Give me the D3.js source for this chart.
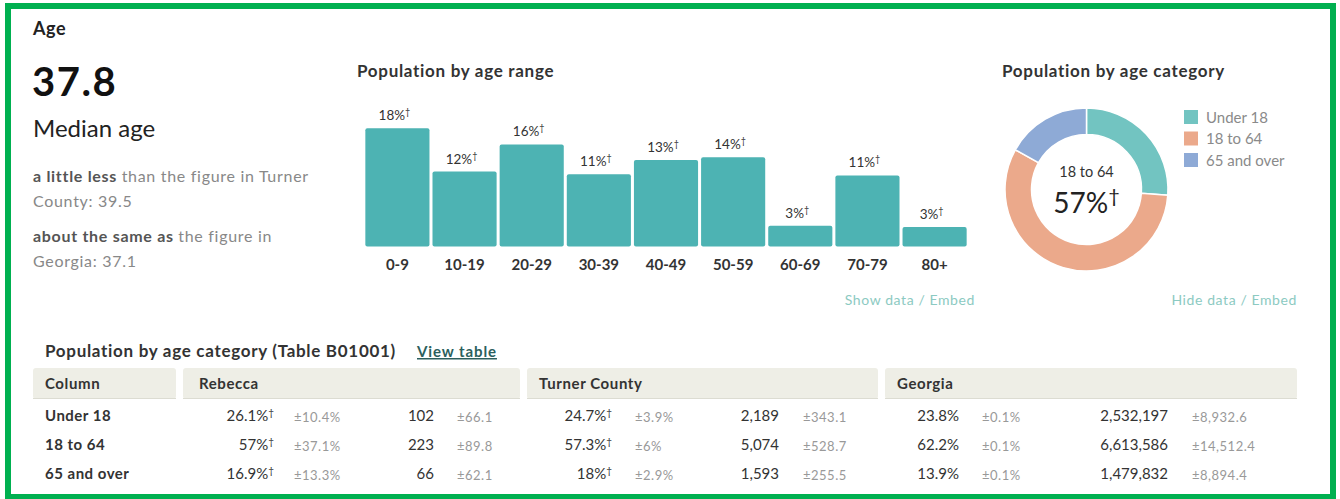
<!DOCTYPE html>
<html>
<head>
<meta charset="utf-8">
<script src="https://cdn.jsdelivr.net/npm/d3@7"></script>
<style>
  body { margin: 0; background: #fff; }
  svg { display: block; font-family: Lato, "Noto Sans", sans-serif; }
</style>
</head>
<body>
<div id="viz"></div>
<script>
// ---- data ----
const medianAge = 37.8;
const compareBold = ["a little less", "about the same as"];
const compareRest = ["than the figure in Turner", "the figure in"];
const compareLine2 = ["County: 39.5", "Georgia: 37.1"];

const ageRanges = ["0-9", "10-19", "20-29", "30-39", "40-49", "50-59", "60-69", "70-79", "80+"];
const ageRangePct = [18.3, 11.6, 15.8, 11.2, 13.4, 13.8, 3.2, 11.0, 3.0];

const categories = ["Under 18", "18 to 64", "65 and over"];
const categoryPct = [26.1, 57, 16.9];
const categoryColors = ["#72c4c1", "#eba98b", "#8eaad6"];

const places = ["Rebecca", "Turner County", "Georgia"];
const flagged = [true, true, false];   // dagger on the percentages
const pctVals = [[26.1, 57, 16.9], [24.7, 57.3, 18], [23.8, 62.2, 13.9]];
const pctMoe = [[10.4, 37.1, 13.3], [3.9, 6, 2.9], [0.1, 0.1, 0.1]];
const countVals = [[102, 223, 66], [2189, 5074, 1593], [2532197, 6613586, 1479832]];
const countMoe = [[66.1, 89.8, 62.1], [343.1, 528.7, 255.5], [8932.6, 14512.4, 8894.4]];

const W = 1340, H = 499;
const svg = d3.select("#viz").append("svg").attr("width", W).attr("height", H);

// green frame
svg.append("rect").attr("x", 5).attr("y", 3).attr("width", 1331).attr("height", 500).attr("fill", "#00b050");
svg.append("rect").attr("x", 11).attr("y", 9).attr("width", 1319).attr("height", 485).attr("fill", "#fff");

// ---- left summary ----
svg.append("text").attr("x", 33).attr("y", 35).attr("font-size", 18).attr("font-weight", 700)
    .attr("letter-spacing", 0.6).attr("fill", "#222").text("Age");
svg.append("text").attr("x", 32).attr("y", 96).attr("font-size", 40).attr("font-weight", 700)
    .attr("letter-spacing", 1.5).attr("fill", "#111").text(medianAge);
svg.append("text").attr("x", 33).attr("y", 137).attr("font-size", 24)
    .attr("fill", "#222").text("Median age");

compareBold.forEach((b, i) => {
    const y0 = 182 + i * 60;
    const t = svg.append("text").attr("x", 33).attr("y", y0).attr("font-size", 16).attr("letter-spacing", 0.7);
    t.append("tspan").attr("font-weight", 700).attr("fill", "#555").text(b + " ");
    t.append("tspan").attr("fill", "#888").text(compareRest[i]);
    svg.append("text").attr("x", 33).attr("y", y0 + 25).attr("font-size", 16).attr("letter-spacing", 0.7)
        .attr("fill", "#888").text(compareLine2[i]);
});

// ---- bar chart ----
svg.append("text").attr("x", 357).attr("y", 77).attr("font-size", 17).attr("font-weight", 700)
    .attr("letter-spacing", 0.7).attr("fill", "#333").text("Population by age range");

const x = d3.scaleBand().domain(ageRanges).range([364, 968]).paddingInner(0.045).paddingOuter(0.02);
const y = d3.scaleLinear().domain([0, d3.max(ageRangePct)]).range([246.5, 128.3]);
const bars = ageRanges.map((r, i) => ({ r, v: ageRangePct[i] }));

svg.append("g").selectAll("rect").data(bars).join("rect")
    .attr("x", d => x(d.r)).attr("y", d => y(d.v))
    .attr("width", x.bandwidth()).attr("height", d => y(0) - y(d.v))
    .attr("rx", 2).attr("fill", "#4db3b3");

const lbl = svg.append("g").selectAll("text").data(bars).join("text")
    .attr("x", d => x(d.r) + x.bandwidth() / 2 - 3).attr("y", d => y(d.v) - 8)
    .attr("text-anchor", "middle").attr("font-size", 13.5).attr("fill", "#333");
lbl.append("tspan").text(d => Math.round(d.v) + "%");
lbl.append("tspan").attr("dy", -5).attr("font-size", 9).text("†");

const xAxis = svg.append("g").attr("transform", `translate(0,${y(0)})`)
    .call(d3.axisBottom(x).tickSize(0).tickPadding(13));
xAxis.select(".domain").remove();
xAxis.selectAll("text").attr("font-family", "Lato, sans-serif").attr("font-size", 15)
    .attr("font-weight", 700).attr("fill", "#333");

svg.append("text").attr("x", 975).attr("y", 305).attr("text-anchor", "end").attr("font-size", 14)
    .attr("letter-spacing", 0.6).attr("fill", "#8ccac2").text("Show data / Embed");

// ---- donut ----
svg.append("text").attr("x", 1002).attr("y", 77).attr("font-size", 17).attr("font-weight", 700)
    .attr("letter-spacing", 0.7).attr("fill", "#333").text("Population by age category");

const pie = d3.pie().sort(null).value(d => d.v);
const arc = d3.arc().innerRadius(55).outerRadius(81.5);
const cats = categories.map((c, i) => ({ c, v: categoryPct[i], col: categoryColors[i] }));
const donut = svg.append("g").attr("transform", "translate(1086.5,189.5)");
donut.selectAll("path").data(pie(cats)).join("path")
    .attr("d", arc).attr("fill", d => d.data.col).attr("stroke", "#fff").attr("stroke-width", 1.5);

const mid = cats[1];
donut.append("text").attr("y", -13).attr("text-anchor", "middle").attr("font-size", 14.5)
    .attr("fill", "#333").text(mid.c);
const big = donut.append("text").attr("y", 23.5).attr("text-anchor", "middle")
    .attr("font-size", 28).attr("fill", "#222");
big.append("tspan").text(Math.round(mid.v) + "%");
big.append("tspan").attr("dy", -10).attr("font-size", 20).text("†");

const leg = svg.append("g").selectAll("g").data(cats).join("g")
    .attr("transform", (d, i) => `translate(1184,${110 + i * 21.5})`);
leg.append("rect").attr("width", 14).attr("height", 14).attr("fill", d => d.col);
leg.append("text").attr("x", 22).attr("y", 12.5).attr("font-size", 15).attr("fill", "#8a8a8a").text(d => d.c);

svg.append("text").attr("x", 1297).attr("y", 305).attr("text-anchor", "end").attr("font-size", 14)
    .attr("letter-spacing", 0.6).attr("fill", "#8ccac2").text("Hide data / Embed");

// ---- table ----
svg.append("text").attr("x", 45).attr("y", 357).attr("font-size", 17).attr("font-weight", 700)
    .attr("letter-spacing", 0.7).attr("fill", "#333").text("Population by age category (Table B01001)");
svg.append("text").attr("x", 417).attr("y", 357).attr("font-size", 15).attr("font-weight", 700)
    .attr("letter-spacing", 0.9).attr("fill", "#2c5f5d").attr("text-decoration", "underline").text("View table");

const headCells = [
    { name: "Column", x0: 33, x1: 176, tx: 45 },
    { name: places[0], x0: 183, x1: 520, tx: 199 },
    { name: places[1], x0: 527, x1: 878, tx: 539 },
    { name: places[2], x0: 885, x1: 1297, tx: 897 }
];
const head = svg.append("g").selectAll("g").data(headCells).join("g");
head.append("rect").attr("x", d => d.x0).attr("y", 368).attr("width", d => d.x1 - d.x0)
    .attr("height", 31).attr("rx", 3).attr("fill", "#eeeee6");
head.append("rect").attr("x", d => d.x0).attr("y", 398).attr("width", d => d.x1 - d.x0)
    .attr("height", 1).attr("fill", "#dcdcd2");
head.append("text").attr("x", d => d.tx).attr("y", 389).attr("font-size", 15).attr("font-weight", 700)
    .attr("letter-spacing", 0.6).attr("fill", "#333").text(d => d.name);

// column anchor positions per place
const colPos = [
    { pctEnd: 274, pctMoe: 294, cntEnd: 434, cntMoe: 457 },
    { pctEnd: 612, pctMoe: 635, cntEnd: 779, cntMoe: 803 },
    { pctEnd: 959, pctMoe: 982, cntEnd: 1168, cntMoe: 1192 }
];
const rowY = [421, 450, 479];
const fmtCount = d3.format(",");

svg.append("g").selectAll("text").data(categories).join("text")
    .attr("x", 45).attr("y", (d, i) => rowY[i]).attr("font-size", 15).attr("font-weight", 700)
    .attr("letter-spacing", 0.5).attr("fill", "#333").text(d => d);

places.forEach((p, pi) => {
    const g = svg.append("g");
    const pos = colPos[pi];
    const rows = categories.map((c, ri) => ({
        y: rowY[ri], pct: pctVals[pi][ri], pm: pctMoe[pi][ri],
        cnt: countVals[pi][ri], cm: countMoe[pi][ri]
    }));
    const pt = g.selectAll("text.pct").data(rows).join("text").attr("class", "pct")
        .attr("x", pos.pctEnd).attr("y", d => d.y).attr("text-anchor", "end")
        .attr("font-size", 15).attr("fill", "#333");
    pt.append("tspan").text(d => d.pct + "%");
    if (flagged[pi]) pt.append("tspan").attr("dy", -5).attr("font-size", 10).text("†");

    g.selectAll("text.pm").data(rows).join("text").attr("class", "pm")
        .attr("x", pos.pctMoe).attr("y", d => d.y + 1).attr("font-size", 13).attr("letter-spacing", 0.5)
        .attr("fill", "#999").text(d => "±" + d.pm + "%");
    g.selectAll("text.cnt").data(rows).join("text").attr("class", "cnt")
        .attr("x", pos.cntEnd).attr("y", d => d.y).attr("text-anchor", "end")
        .attr("font-size", 15).attr("fill", "#333").text(d => fmtCount(d.cnt));
    g.selectAll("text.cm").data(rows).join("text").attr("class", "cm")
        .attr("x", pos.cntMoe).attr("y", d => d.y + 1).attr("font-size", 13).attr("letter-spacing", 0.5)
        .attr("fill", "#999").text(d => "±" + fmtCount(d.cm));
});
</script>
</body>
</html>
